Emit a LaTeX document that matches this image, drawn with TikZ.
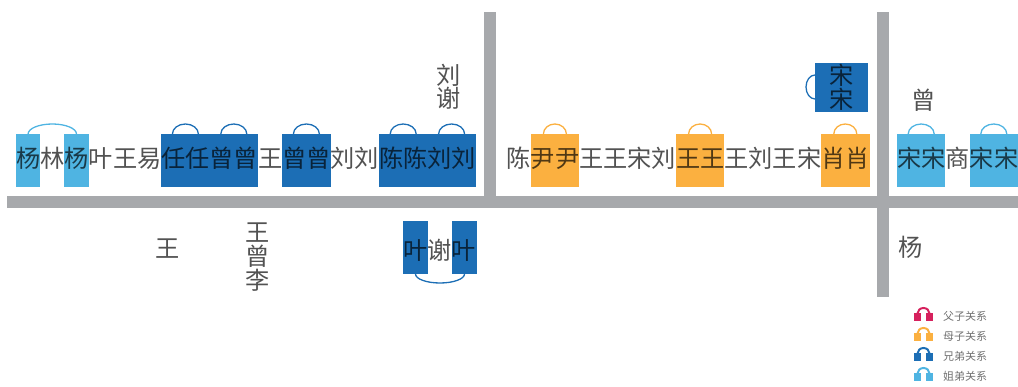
\documentclass[tikz,border=0pt]{standalone}
\usepackage{fontspec}
\newfontfamily\cjk{Noto Sans CJK SC}
\definecolor{roadgray}{HTML}{A7A9AC}
\definecolor{lblue}{HTML}{4FB4E2}
\definecolor{dblue}{HTML}{1C6EB5}
\definecolor{orng}{HTML}{FBB040}
\definecolor{pinkc}{HTML}{D6215D}
\definecolor{legtxt}{HTML}{707070}
\tikzset{
  road/.style={fill=roadgray, draw=none},
  bag/.style={fill=#1, draw=none},
  handle/.style={draw=#1, line width=1.3pt},
  hz/.style={font=\cjk\fontsize{24.2}{24.2}\selectfont, text=black, text opacity=0.68, inner sep=0pt, anchor=base west},
  hzc/.style={font=\cjk\fontsize{24.2}{24.2}\selectfont, text=black, text opacity=0.68, inner sep=0pt, anchor=base},
  leg/.style={font=\cjk\fontsize{11}{11}\selectfont, text=legtxt, inner sep=0pt, anchor=base west},
}
\begin{document}
\begin{tikzpicture}[x=1pt,y=-1pt]
\useasboundingbox (0,0) rectangle (1018,387);
% roads
\fill[road] (7,196.5) rectangle (1018,208);
\fill[road] (484,12) rectangle (496,196.5);
\fill[road] (877,12) rectangle (889,297);
% bags, left block
\fill[bag=lblue] (16,134) rectangle (40.2,187);
\fill[bag=lblue] (64.4,134) rectangle (88.6,187);
\fill[bag=dblue] (161.2,134) rectangle (258,187);
\fill[bag=dblue] (282.2,134) rectangle (330.6,187);
\fill[bag=dblue] (379,134) rectangle (475.8,187);
% bags, middle block
\fill[bag=orng] (530.7,134) rectangle (579.1,187);
\fill[bag=orng] (675.9,134) rectangle (724.3,187);
\fill[bag=orng] (821.1,134) rectangle (869.5,187);
\fill[bag=dblue] (815,63) rectangle (868,112);
% bags, right block
\fill[bag=lblue] (897,134) rectangle (945.4,187);
\fill[bag=lblue] (969.6,134) rectangle (1018,187);
% bags below
\fill[bag=dblue] (403,221) rectangle (428,274);
\fill[bag=dblue] (452,221) rectangle (477,274);
% handles
\draw[handle=lblue] (28.1,134) arc[start angle=180,end angle=0,x radius=24.2pt,y radius=10pt];
\draw[handle=dblue] (172.4,134) arc[start angle=180,end angle=0,x radius=13pt,y radius=10pt];
\draw[handle=dblue] (220.8,134) arc[start angle=180,end angle=0,x radius=13pt,y radius=10pt];
\draw[handle=dblue] (293.4,134) arc[start angle=180,end angle=0,x radius=13pt,y radius=10pt];
\draw[handle=dblue] (390.2,134) arc[start angle=180,end angle=0,x radius=13pt,y radius=10pt];
\draw[handle=dblue] (438.6,134) arc[start angle=180,end angle=0,x radius=13pt,y radius=10pt];
\draw[handle=orng] (543.4,134) arc[start angle=180,end angle=0,x radius=11.5pt,y radius=10pt];
\draw[handle=orng] (688.6,134) arc[start angle=180,end angle=0,x radius=11.5pt,y radius=10pt];
\draw[handle=orng] (833.8,134) arc[start angle=180,end angle=0,x radius=11.5pt,y radius=10pt];
\draw[handle=lblue] (908.2,134) arc[start angle=180,end angle=0,x radius=13pt,y radius=10pt];
\draw[handle=lblue] (980.8,134) arc[start angle=180,end angle=0,x radius=13pt,y radius=10pt];
\draw[handle=dblue] (815,75) arc[start angle=90,end angle=270,x radius=9pt,y radius=12pt];
\draw[handle=dblue] (415.5,274) arc[start angle=180,end angle=360,x radius=24.5pt,y radius=9pt];
% text rows
\node[hz] (rowL) at (16,168) {杨林杨叶王易任任曾曾王曾曾刘刘陈陈刘刘};
\node[hz] (rowR) at (506.5,168) {陈尹尹王王宋刘王王王刘王宋肖肖};
\node[hz] (rowF) at (897,168) {宋宋商宋宋};
\node[hz] (rowB) at (403,260) {叶谢叶};
% single characters
\node[hzc] (liu) at (449,84.2) {刘};
\node[hzc] (xie) at (449,107.2) {谢};
\node[hzc] (wangA) at (168,257.5) {王};
\node[hzc] (wangB) at (258,241.2) {王};
\node[hzc] (zengB) at (258,265.2) {曾};
\node[hzc] (liB) at (258,289.2) {李};
\node[hzc] (songA) at (842,84.2) {宋};
\node[hzc] (songB) at (842,108.2) {宋};
\node[hzc] (zengR) at (924,109.2) {曾};
\node[hzc] (yangR) at (911,256.2) {杨};
% legend
\foreach \c/\col/\lab/\nm in {317/pinkc/父子关系/la, 337/orng/母子关系/lb, 357/dblue/兄弟关系/lc, 377/lblue/姐弟关系/ld}{
  \fill[\col] (914,\c-4) rectangle (921,\c+4);
  \fill[\col] (926,\c-4) rectangle (933,\c+4);
  \draw[draw=\col, line width=2pt] (917.5,\c-3.5) arc[start angle=180,end angle=0,x radius=6pt,y radius=5.5pt];
  \node[leg] (\nm) at (943,\c+4) {\lab};
}
\end{tikzpicture}
\end{document}
